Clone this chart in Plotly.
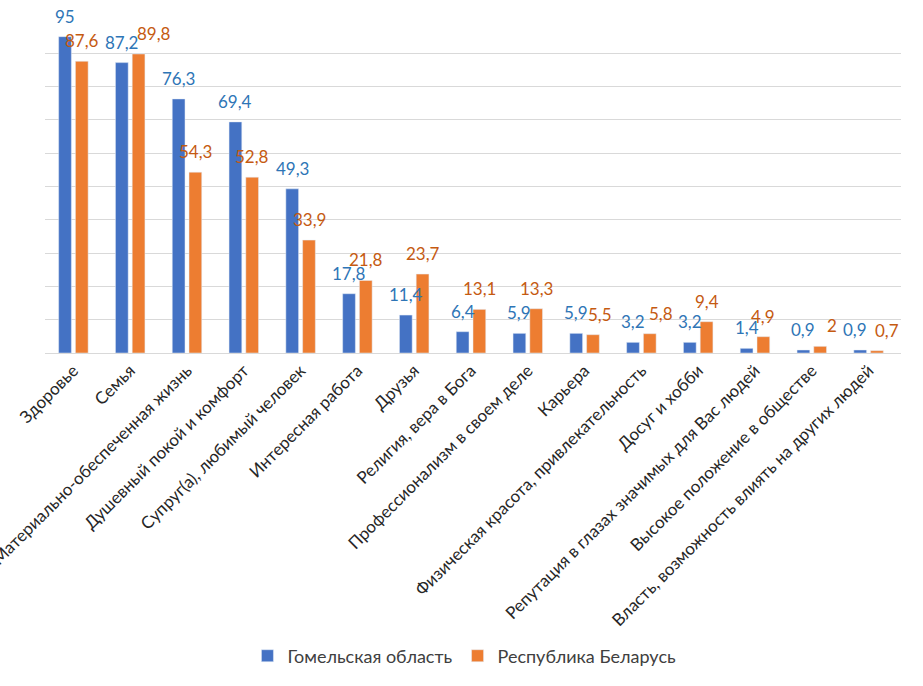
import plotly.graph_objects as go

categories = ["Здоровье", "Семья", "Материально-обеспеченная жизнь", "Душевный покой и комфорт",
              "Супруг(а), любимый человек", "Интересная работа", "Друзья", "Религия, вера в Бога",
              "Профессионализм в своем деле", "Карьера", "Физическая красота, привлекательность",
              "Досуг и хобби", "Репутация в глазах значимых для Вас людей",
              "Высокое положение в обществе", "Власть, возможность влиять на других людей"]
gomel = [95, 87.2, 76.3, 69.4, 49.3, 17.8, 11.4, 6.4, 5.9, 5.9, 3.2, 3.2, 1.4, 0.9, 0.9]
belarus = [87.6, 89.8, 54.3, 52.8, 33.9, 21.8, 23.7, 13.1, 13.3, 5.5, 5.8, 9.4, 4.9, 2, 0.7]
series_names = ["Гомельская область", "Республика Беларусь"]

# style: manual horizontal nudges (px) of some data labels, as in the reference
nudge_gomel = [0, 0, 0, 0, 0, 0, 0, 0, 0, 0, 0, 0, 0, 0, -5]
nudge_belarus = [0, 15, 0, 0, 0, 0, 0, 0, 0, 7, 11, 0, 0, 12, 10]

def fmt(v):
    return f"{v:g}".replace(".", ",")

FONT = "Lato, Open Sans, sans-serif"
BAR_GAP = 0.41
GROUP_GAP = 0.24

fig = go.Figure()
fig.add_trace(go.Bar(x=categories, y=gomel, name=series_names[0], marker_color="#4472C4"))
fig.add_trace(go.Bar(x=categories, y=belarus, name=series_names[1], marker_color="#ED7D31"))

W, H = 923, 686
ML, MR, MT, MB = 45, 22, 20, 333
cat_w = (W - ML - MR) / len(categories)
slot = cat_w * (1 - BAR_GAP) / 2
for series, nudges, color, sign in ((gomel, nudge_gomel, "#2E75B6", -1),
                                    (belarus, nudge_belarus, "#C55A11", 1)):
    for c, v, n in zip(categories, series, nudges):
        fig.add_annotation(x=c, y=v, text=fmt(v), showarrow=False, yanchor="bottom",
                           xshift=sign * slot / 2 + n, yshift=8,
                           font=dict(color=color, size=17, family=FONT))

fig.update_layout(
    width=W, height=H,
    margin=dict(l=ML, r=MR, t=MT, b=MB, autoexpand=False),
    paper_bgcolor="white", plot_bgcolor="white",
    barmode="group", bargap=BAR_GAP, bargroupgap=GROUP_GAP,
    font=dict(family=FONT, color="#404040", size=14),
    showlegend=True,
    legend=dict(orientation="h", x=0.49, xanchor="center", y=-0.91, yanchor="middle",
                font=dict(size=18, color="#404040")),
)
fig.update_xaxes(tickangle=-45, showline=True, linecolor="#D9D9D9", ticks="",
                 tickfont=dict(size=17, color="#262626", family=FONT), automargin=False)
fig.update_yaxes(range=[0, 100], dtick=10, showgrid=True, gridcolor="#D9D9D9",
                 showticklabels=False, zeroline=False, automargin=False)

fig.write_html("out.html")
